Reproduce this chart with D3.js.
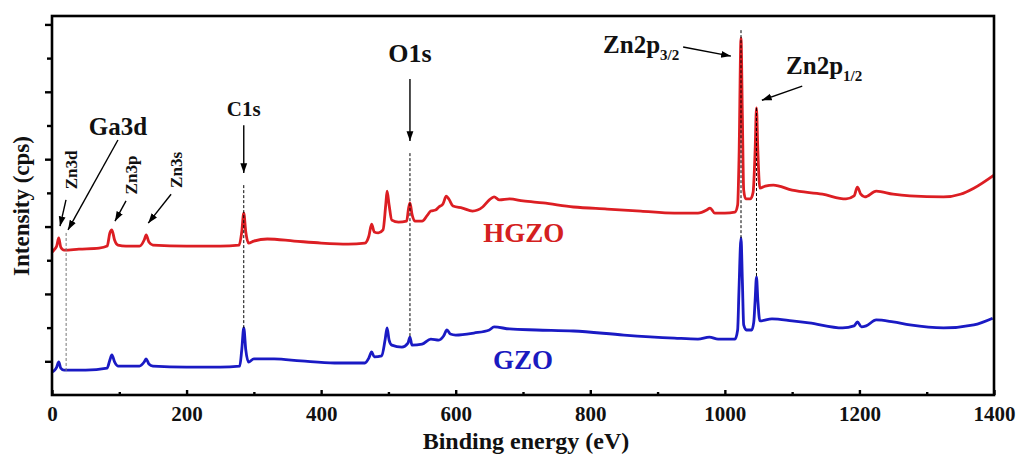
<!DOCTYPE html>
<html>
<head>
<meta charset="utf-8">
<script src="https://cdn.jsdelivr.net/npm/d3@7"></script>
<style>
  body { margin: 0; background: #fff; }
  svg { display: block; font-family: "Liberation Serif", "Times New Roman", serif; font-weight: bold; }
</style>
</head>
<body>
<div id="chart"></div>
<script>
// binding energy (eV) and intensity (arb. units, one y tick = 1)
const hgzoEnergy = [0, 4, 7, 10, 13, 18, 40, 70, 82, 86, 89, 93, 98, 110, 130, 137, 140, 144, 150, 200, 250, 278, 282, 285, 288, 292, 300, 320, 360, 400, 440, 465, 471, 475, 479, 485, 492, 496, 498, 501, 505, 515, 527, 530, 532, 535, 540, 550, 558, 563, 570, 575, 581, 586, 590, 596, 610, 625, 640, 650, 657, 665, 680, 700, 730, 775, 825, 875, 925, 960, 973, 978, 985, 1000, 1015, 1019, 1021, 1024, 1026, 1028, 1031, 1038, 1042, 1045, 1047, 1049, 1052, 1060, 1072, 1100, 1145, 1180, 1192, 1197, 1202, 1208, 1225, 1250, 1275, 1325, 1350, 1370, 1400];
const hgzoIntensity = [4.24, 4.33, 4.42, 4.66, 4.39, 4.30, 4.33, 4.36, 4.42, 4.81, 4.90, 4.60, 4.45, 4.42, 4.42, 4.60, 4.75, 4.54, 4.45, 4.42, 4.42, 4.45, 4.84, 5.40, 4.84, 4.51, 4.57, 4.63, 4.57, 4.51, 4.48, 4.51, 4.72, 5.07, 4.84, 4.81, 4.90, 5.64, 6.05, 5.64, 5.19, 5.13, 5.16, 5.55, 5.70, 5.37, 5.16, 5.16, 5.34, 5.46, 5.49, 5.58, 5.67, 5.90, 5.81, 5.61, 5.55, 5.46, 5.58, 5.79, 5.88, 5.79, 5.82, 5.76, 5.70, 5.58, 5.52, 5.46, 5.40, 5.40, 5.49, 5.55, 5.40, 5.40, 5.43, 5.64, 6.97, 10.59, 8.31, 6.08, 5.82, 5.82, 6.02, 7.27, 8.52, 7.27, 6.14, 6.20, 6.23, 6.08, 5.96, 5.82, 5.91, 6.17, 5.96, 5.88, 6.05, 5.96, 5.91, 5.88, 5.96, 6.14, 6.53];

const gzoEnergy = [0, 4, 7, 10, 13, 18, 50, 82, 86, 89, 93, 98, 130, 137, 140, 144, 150, 200, 250, 279, 282, 285, 288, 292, 300, 330, 370, 420, 465, 471, 475, 479, 490, 495, 498, 501, 505, 520, 529, 532, 535, 550, 563, 575, 582, 587, 592, 600, 627, 650, 657, 680, 720, 775, 850, 925, 960, 977, 990, 1015, 1019, 1021, 1024, 1026, 1028, 1032, 1040, 1043, 1045, 1047, 1049, 1052, 1070, 1100, 1125, 1175, 1192, 1197, 1203, 1210, 1225, 1250, 1275, 1325, 1370, 1398];
const gzoIntensity = [0.68, 0.74, 0.83, 0.98, 0.80, 0.74, 0.74, 0.80, 1.04, 1.19, 0.98, 0.86, 0.86, 0.98, 1.07, 0.92, 0.86, 0.83, 0.83, 0.86, 1.34, 1.99, 1.34, 0.98, 1.07, 1.07, 1.01, 0.95, 0.95, 1.10, 1.28, 1.13, 1.16, 1.63, 1.99, 1.63, 1.48, 1.42, 1.54, 1.72, 1.48, 1.51, 1.66, 1.63, 1.75, 1.93, 1.81, 1.78, 1.84, 1.93, 2.02, 1.96, 1.93, 1.90, 1.78, 1.69, 1.66, 1.72, 1.66, 1.66, 1.93, 3.12, 4.66, 3.41, 2.08, 1.93, 1.93, 2.17, 2.82, 3.50, 2.82, 2.20, 2.26, 2.20, 2.14, 1.99, 2.05, 2.17, 2.02, 2.05, 2.23, 2.17, 2.08, 1.99, 2.08, 2.28];

const xMajorTicks = [0, 200, 400, 600, 800, 1000, 1200, 1400];
const xMinorTicks = [100, 300, 500, 700, 900, 1100, 1300];
const yMajorTicks = [1, 3, 5, 7, 9, 11];
const yMinorTicks = [2, 4, 6, 8, 10];

// dashed guide lines: energy, from intensity, to intensity
const guideE = [21, 285, 532, 1024, 1047];
const guideTop = [4.81, 6.23, 7.18, 10.83, 8.52];
const guideBottom = [0.65, 1.99, 1.72, 4.66, 3.50];
const guideColor = ["#777", "#000", "#000", "#000", "#000"];

// peak labels (data coordinates) and their arrows
const peakLabels = [
  { text: "Ga3d", e: 98, v: 7.72, size: 25, anchor: "middle", rot: false },
  { text: "Zn3d", e: 37, v: 6.68, size: 17, anchor: "middle", rot: true },
  { text: "Zn3p", e: 126, v: 6.53, size: 17, anchor: "middle", rot: true },
  { text: "Zn3s", e: 193, v: 6.68, size: 17, anchor: "middle", rot: true },
  { text: "C1s", e: 285, v: 8.28, size: 21, anchor: "middle", rot: false },
  { text: "O1s", e: 532, v: 9.88, size: 26, anchor: "middle", rot: false },
  { text: "Zn2p", sub: "3/2", e: 819, v: 10.15, size: 25, anchor: "start", rot: false },
  { text: "Zn2p", sub: "1/2", e: 1091, v: 9.53, size: 25, anchor: "start", rot: false }
];
const arrows = [
  [98, 7.57, 23.8, 4.90],
  [20.8, 5.79, 11.9, 5.01],
  [110, 5.76, 93.6, 5.16],
  [177, 5.96, 143, 5.10],
  [285, 8.01, 285, 6.59],
  [532, 9.38, 532, 7.54],
  [938, 10.33, 1009, 10.06],
  [1115, 9.17, 1055, 8.75]
];

const width = 1016, height = 454;
const margin = { top: 16, right: 22, bottom: 59, left: 52 };

const svg = d3.select("#chart").append("svg")
  .attr("width", width)
  .attr("height", height);

const x = d3.scaleLinear().domain([0, 1400]).range([margin.left, width - margin.right]);
const y = d3.scaleLinear().domain([0, 11.25]).range([height - margin.bottom, margin.top]);

svg.append("defs").append("marker")
  .attr("id", "head")
  .attr("viewBox", "0 0 10 10")
  .attr("refX", 10).attr("refY", 5)
  .attr("markerWidth", 7).attr("markerHeight", 7)
  .attr("markerUnits", "strokeWidth")
  .attr("orient", "auto")
  .append("path").attr("d", "M0,1.5 L10,5 L0,8.5 Z").attr("fill", "#000");

// spectra
const line = d3.line().x(d => x(d[0])).y(d => y(d[1])).curve(d3.curveMonotoneX);
const series = [
  { e: hgzoEnergy, v: hgzoIntensity, color: "#dc1e23" },
  { e: gzoEnergy, v: gzoIntensity, color: "#1a1ac4" }
];
series.forEach(s => {
  svg.append("path")
    .datum(d3.zip(s.e, s.v))
    .attr("fill", "none")
    .attr("stroke", s.color)
    .attr("stroke-width", 2.8)
    .attr("stroke-linejoin", "round")
    .attr("d", line);
});

// dashed guides
svg.selectAll(".guide")
  .data(guideE)
  .enter().append("line")
  .attr("class", "guide")
  .attr("x1", d => x(d)).attr("x2", d => x(d))
  .attr("y1", (d, i) => y(guideTop[i]))
  .attr("y2", (d, i) => y(guideBottom[i]))
  .attr("stroke", (d, i) => guideColor[i])
  .attr("stroke-width", 1)
  .attr("stroke-dasharray", "3,2");

// arrows
svg.selectAll(".arrow")
  .data(arrows)
  .enter().append("line")
  .attr("class", "arrow")
  .attr("x1", d => x(d[0])).attr("y1", d => y(d[1]))
  .attr("x2", d => x(d[2])).attr("y2", d => y(d[3]))
  .attr("stroke", "#000")
  .attr("stroke-width", 1.4)
  .attr("marker-end", "url(#head)");

// peak labels
peakLabels.forEach(p => {
  const t = svg.append("text")
    .attr("font-size", p.size)
    .attr("text-anchor", p.anchor)
    .attr("fill", "#111");
  if (p.rot) {
    t.attr("transform", `translate(${x(p.e)},${y(p.v)}) rotate(-90)`);
  } else {
    t.attr("x", x(p.e)).attr("y", y(p.v));
  }
  t.append("tspan").text(p.text);
  if (p.sub) {
    t.append("tspan").attr("font-size", 15).attr("dy", 7).text(p.sub);
  }
});

// sample names
svg.append("text")
  .attr("x", x(701)).attr("y", y(4.54))
  .attr("text-anchor", "middle")
  .attr("font-size", 27)
  .attr("fill", "#d42020")
  .text("HGZO");
svg.append("text")
  .attr("x", x(700)).attr("y", y(0.77))
  .attr("text-anchor", "middle")
  .attr("font-size", 27)
  .attr("fill", "#1a1ac0")
  .text("GZO");

// axes
const xAxis = svg.append("g")
  .attr("transform", `translate(0,${height - margin.bottom})`)
  .call(d3.axisBottom(x).tickValues(xMajorTicks).tickSize(-5).tickPadding(11).tickFormat(d3.format("d")))
  .attr("font-family", null).attr("font-size", null);
xAxis.select(".domain").remove();
xAxis.selectAll("text").attr("font-size", 21).attr("fill", "#111");
xAxis.selectAll(".tick line").attr("stroke-width", 2.4);

const xMinor = svg.append("g")
  .attr("transform", `translate(0,${height - margin.bottom})`)
  .call(d3.axisBottom(x).tickValues(xMinorTicks).tickSize(-3).tickFormat(""));
xMinor.select(".domain").remove();
xMinor.selectAll(".tick line").attr("stroke-width", 2.4);

const yAxis = svg.append("g")
  .attr("transform", `translate(${margin.left},0)`)
  .call(d3.axisLeft(y).tickValues(yMajorTicks).tickSize(7).tickFormat(""));
yAxis.select(".domain").remove();
yAxis.selectAll(".tick line").attr("stroke-width", 2.4);

const yMinor = svg.append("g")
  .attr("transform", `translate(${margin.left},0)`)
  .call(d3.axisLeft(y).tickValues(yMinorTicks).tickSize(5).tickFormat(""));
yMinor.select(".domain").remove();
yMinor.selectAll(".tick line").attr("stroke-width", 2.4);

// frame
svg.append("rect")
  .attr("x", margin.left).attr("y", margin.top)
  .attr("width", width - margin.left - margin.right)
  .attr("height", height - margin.top - margin.bottom)
  .attr("fill", "none")
  .attr("stroke", "#000")
  .attr("stroke-width", 2.6);

// axis titles
svg.append("text")
  .attr("x", 526).attr("y", 449)
  .attr("text-anchor", "middle")
  .attr("font-size", 24)
  .attr("fill", "#111")
  .text("Binding energy (eV)");
svg.append("text")
  .attr("transform", "translate(29,206) rotate(-90)")
  .attr("text-anchor", "middle")
  .attr("font-size", 23)
  .attr("fill", "#111")
  .text("Intensity (cps)");
</script>
</body>
</html>
